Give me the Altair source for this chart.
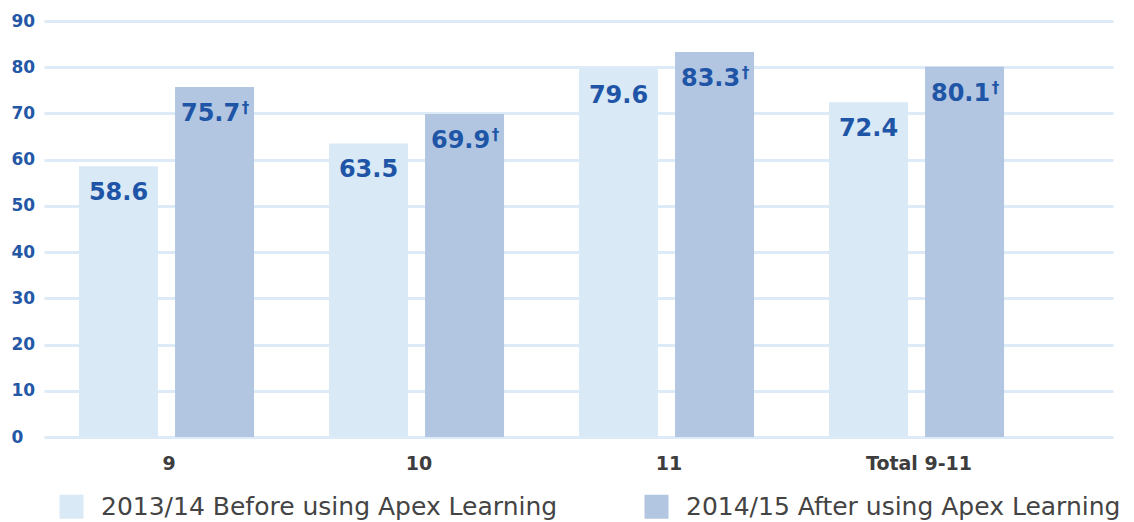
import altair as alt
import pandas as pd

grades = ["9", "10", "11", "Total 9-11"]
before = [58.6, 63.5, 79.6, 72.4]
after = [75.7, 69.9, 83.3, 80.1]
series = ["2013/14 Before using Apex Learning", "2014/15 After using Apex Learning"]
colors = ["#d9e9f6", "#b2c6e1"]
y_ticks = [0, 10, 20, 30, 40, 50, 60, 70, 80, 90]

rows = []
for g, b, a in zip(grades, before, after):
    rows.append({"grade": g, "series": series[0], "value": b, "label": f"{b:.1f}", "mark": ""})
    rows.append({"grade": g, "series": series[1], "value": a, "label": f"{a:.1f}", "mark": "†"})
df = pd.DataFrame(rows)

FONT = "DejaVu Sans"
LABEL_BLUE = "#1f55a6"

x = alt.X(
    "grade:N",
    sort=grades,
    scale=alt.Scale(paddingInner=0, paddingOuter=0.138, align=0),
    axis=alt.Axis(
        title=None, labelAngle=0, domain=False, ticks=False, tickSize=0, grid=False,
        labelPadding=17, labelFont=FONT, labelFontSize=19, labelFontWeight="bold",
        labelColor="#3d3d3d", labelBaseline="top",
    ),
)
xoff = alt.XOffset(
    "series:N", sort=series,
    scale=alt.Scale(paddingInner=0.177, paddingOuter=0.39, align=0.467),
)
y = alt.Y(
    "value:Q",
    scale=alt.Scale(domain=[0, 90], nice=False),
    axis=alt.Axis(
        title=None, values=y_ticks, domain=False, ticks=False, tickSize=0,
        labelAlign="left", labelPadding=33, grid=True, gridColor="#dcebf7", gridWidth=3,
        labelFont=FONT, labelFontSize=17, labelFontWeight="bold", labelColor="#2457a6",
    ),
)
color = alt.Color(
    "series:N",
    sort=series,
    scale=alt.Scale(domain=series, range=colors),
    legend=alt.Legend(
        title=None, orient="none", legendX=15, legendY=473, direction="horizontal",
        symbolType="square", symbolSize=576, symbolStrokeWidth=0, symbolOpacity=1,
        labelFont=FONT, labelFontSize=25, labelColor="#444444", labelOffset=17,
        columnPadding=86, labelLimit=0,
    ),
)

base = alt.Chart(df)
bars = base.mark_bar(size=79).encode(x=x, xOffset=xoff, y=y, color=color)

txt_before = base.transform_filter(alt.datum.series == series[0]).mark_text(
    font=FONT, fontSize=24, fontWeight="bold", color=LABEL_BLUE, baseline="alphabetic", dy=34
).encode(x=x, xOffset=xoff, y=y, text="label:N")

txt_after = base.transform_filter(alt.datum.series == series[1]).mark_text(
    font=FONT, fontSize=24, fontWeight="bold", color=LABEL_BLUE, baseline="alphabetic", dy=34, dx=-4
).encode(x=x, xOffset=xoff, y=y, text="label:N")

dagger = base.transform_filter(alt.datum.series == series[1]).mark_text(
    font=FONT, fontSize=15, fontWeight="bold", color=LABEL_BLUE, baseline="alphabetic", dy=26, dx=31
).encode(x=x, xOffset=xoff, y=y, text="mark:N")

chart = (
    alt.layer(bars, txt_before, txt_after, dagger)
    .properties(width=1069, height=416, padding={"left": 3, "top": 4, "right": 0, "bottom": 0})
    .configure(background="white")
    .configure_view(stroke=None, strokeWidth=0)
)

chart.save("out.html", embed_options={"renderer": "svg", "actions": False})
